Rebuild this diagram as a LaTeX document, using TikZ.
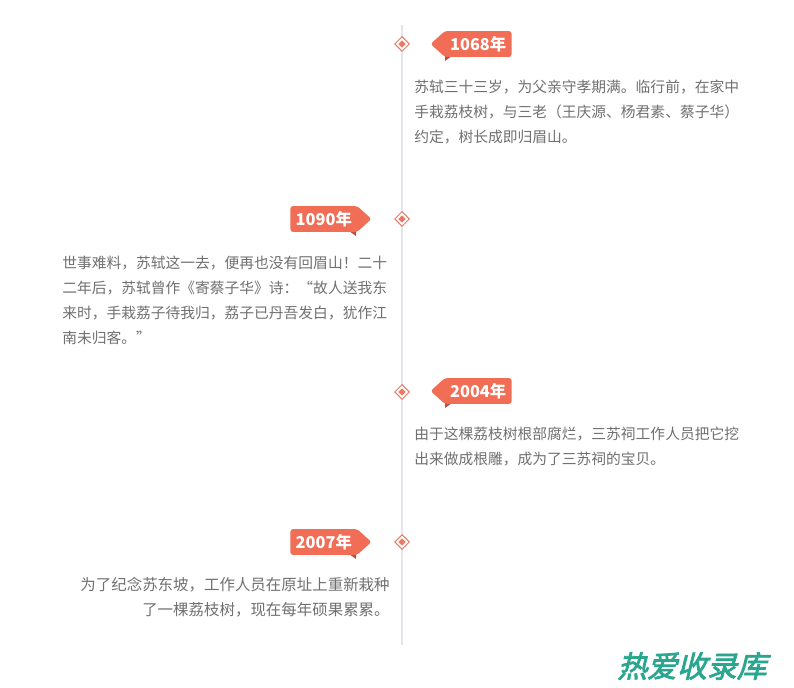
\documentclass[tikz,border=0pt]{standalone}
\usepackage{fontspec}
\usetikzlibrary{shapes.symbols,shapes.geometric}
\newfontfamily\cjk{Noto Sans CJK SC}
\newfontfamily\wmfont[FakeSlant=0.25,FakeBold=2.5]{Noto Sans CJK SC}
\definecolor{tagred}{HTML}{F26D55}
\definecolor{tagdark}{HTML}{B8503E}
\definecolor{dotred}{HTML}{E77B66}
\definecolor{linegray}{HTML}{E4E4EA}
\definecolor{txtgray}{HTML}{707070}
\definecolor{wmgreen}{HTML}{2AA68E}

\begin{document}
\begin{tikzpicture}[x=0.02cm,y=-0.02cm,
    tagl/.style={signal,signal to=west,signal pointer angle=84,fill=tagred,text=white,rounded corners=1.5pt,
      font=\cjk\bfseries\fontsize{9.3}{10}\selectfont,minimum height=14.7pt,inner xsep=3pt,inner ysep=0pt},
    tagr/.style={tagl,signal to=east},
    dot/.style={diamond,draw=dotred,line width=0.6pt,fill=white,minimum size=8.5pt,inner sep=0pt},
    dotin/.style={diamond,fill=dotred,minimum size=4.2pt,inner sep=0pt},
    para/.style={text=txtgray,font=\cjk\fontsize{8.4}{14.2}\selectfont,inner sep=0pt}]
  \fill[white] (0,0) rectangle (794,688);
  \useasboundingbox (0,0) rectangle (794,688);
  \coordinate (top) at (402,25);
  \coordinate (bot) at (402,645);
  \draw[linegray,line width=1.7pt] (top) -- (bot);
  \node[dot] (d1) at (402,44) {};
  \node[dotin] at (d1) {};
  \node[dot] (d2) at (402,219) {};
  \node[dotin] at (d2) {};
  \node[dot] (d3) at (402,392) {};
  \node[dotin] at (d3) {};
  \node[dot] (d4) at (402,542) {};
  \node[dotin] at (d4) {};
  \fill[tagdark] (445,56) -- (452,56) -- (445,61) -- cycle;
  \fill[tagdark] (445,403) -- (452,403) -- (445,408) -- cycle;
  \fill[tagdark] (356,231) -- (349,231) -- (356,236) -- cycle;
  \fill[tagdark] (356,554) -- (349,554) -- (356,559) -- cycle;
  \node[tagl,anchor=west] (t1) at (430,44) {1068年};
  \node[tagr,anchor=east] (t2) at (372,219) {1090年};
  \node[tagl,anchor=west] (t3) at (430,391) {2004年};
  \node[tagr,anchor=east] (t4) at (372,542) {2007年};
  \node[para,anchor=north west,align=left] (p1) at (414,80) {苏轼三十三岁，为父亲守孝期满。临行前，在家中\\手栽荔枝树，与三老（王庆源、杨君素、蔡子华）\\约定，树长成即归眉山。};
  \node[para,anchor=north west,align=left] (p2) at (62,256) {世事难料，苏轼这一去，便再也没有回眉山！二十\\二年后，苏轼曾作《寄蔡子华》诗：“故人送我东\\来时，手栽荔子待我归，荔子已丹吾发白，犹作江\\南未归客。”};
  \node[para,anchor=north west,align=left] (p3) at (414,427) {由于这棵荔枝树根部腐烂，三苏祠工作人员把它挖\\出来做成根雕，成为了三苏祠的宝贝。};
  \node[para,font=\cjk\fontsize{8.8}{14.2}\selectfont,anchor=north east,align=right] (p4) at (390,577) {为了纪念苏东坡，工作人员在原址上重新栽种\\了一棵荔枝树，现在每年硕果累累。};
  \node[text=wmgreen,font=\wmfont\fontsize{17}{18}\selectfont,inner sep=0pt] (wm) at (692,666) {热爱收录库};
\end{tikzpicture}
\end{document}
